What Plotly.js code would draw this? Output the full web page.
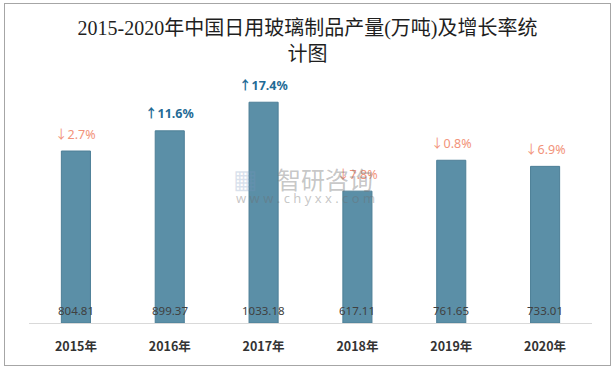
<!DOCTYPE html>
<html><head><meta charset="utf-8">
<script src="https://cdn.plot.ly/plotly-3.0.1.min.js"></script>
<style>
html,body{margin:0;padding:0;background:#fff;}
#frame{position:absolute;left:4px;top:3px;width:605px;height:361px;border:1px solid #a6a6a6;}
#chart{position:absolute;left:0;top:0;width:615px;height:370px;}
</style></head>
<body>
<div id="frame"></div>
<div id="chart"></div>
<script>
const years = ['2015年','2016年','2017年','2018年','2019年','2020年'];
const output = [804.81, 899.37, 1033.18, 617.11, 761.65, 733.01];
const growth = [-2.7, 11.6, 17.4, -7.8, -0.8, -6.9];

const barTrace = {
  type: 'bar', x: years, y: output,
  marker: {color: '#5b8fa7', line: {color: '#4d7f97', width: 1}},
  width: 0.31,
  textposition: 'none', hoverinfo: 'none'
};

const annotations = [];
years.forEach((y, i) => {
  const up = growth[i] >= 0;
  annotations.push({
    x: y, y: output[i], xref: 'x', yref: 'y', yshift: 17, showarrow: false,
    text: (up ? '↑' : '↓') + Math.abs(growth[i]).toFixed(1) + '%',
    font: {family: 'Noto Sans, Noto Sans CJK SC, sans-serif', size: 12.5,
           color: up ? '#1f6b96' : '#f2937a', weight: up ? 'bold' : 'normal'}
  });
  annotations.push({
    x: y, y: 0, xref: 'x', yref: 'y', yshift: 13, showarrow: false,
    text: output[i].toFixed(2),
    font: {family: 'Noto Sans, sans-serif', size: 11.5, color: '#404040'}
  });
});
annotations.push(
  {xref: 'paper', yref: 'paper', x: 0.385, y: 0.573, showarrow: false, text: '▦',
   font: {size: 26, color: 'rgba(120,150,190,0.28)'}},
  {xref: 'paper', yref: 'paper', x: 0.525, y: 0.573, showarrow: false, text: '智研咨询',
   font: {family: 'Noto Sans CJK SC, sans-serif', size: 24, color: 'rgba(110,110,110,0.4)'}},
  {xref: 'paper', yref: 'paper', x: 0.492, y: 0.494, showarrow: false, text: 'w w w . c h y x x . c o m',
   font: {family: 'Noto Sans, sans-serif', size: 13, color: 'rgba(110,110,110,0.4)'}}
);
const layout = {
  width: 615, height: 370,
  margin: {l: 29, r: 23, t: 70, b: 47},
  paper_bgcolor: 'rgba(0,0,0,0)', plot_bgcolor: 'rgba(0,0,0,0)',
  title: {text: '2015-2020年中国日用玻璃制品产量(万吨)及增长率统<br>计图',
    x: 0.5, xanchor: 'center', y: 0.905, yanchor: 'middle', yref: 'container',
    font: {family: 'Liberation Serif, Noto Sans CJK SC, serif', size: 20, color: '#1f1f1f'}},
  xaxis: {type: 'category', showline: true, linecolor: '#d9d9d9', linewidth: 1,
    ticks: '', ticklabelstandoff: 12,
    tickfont: {family: 'Noto Sans CJK SC, sans-serif', size: 12.5, color: '#333', weight: 'bold'}},
  yaxis: {range: [0, 1184], visible: false, showgrid: false, zeroline: false},
  showlegend: false,
  annotations: annotations
};
Plotly.newPlot('chart', [barTrace], layout, {displayModeBar: false, staticPlot: true});
</script>
</body></html>
